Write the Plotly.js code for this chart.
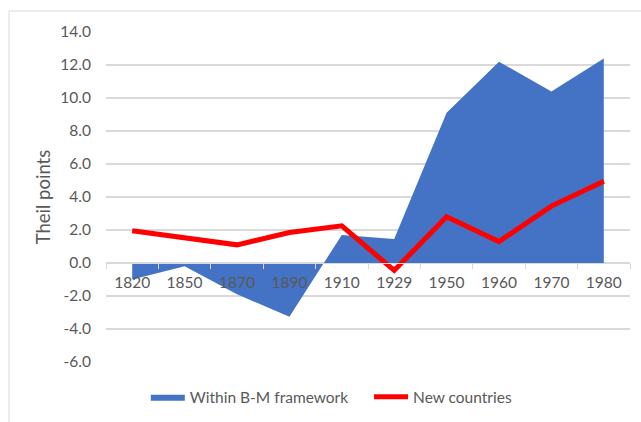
<!DOCTYPE html>
<html>
<head>
<meta charset="utf-8">
<script src="https://cdn.plot.ly/plotly-3.0.1.min.js"></script>
<style>
html,body{margin:0;padding:0;background:#fff;}
#chart{width:641px;height:422px;}
</style>
</head>
<body>
<div id="chart"></div>
<script>
const years = ['1820','1850','1870','1890','1910','1929','1950','1960','1970','1980'];
const withinBM = [-1.0, -0.2, -1.9, -3.25, 1.7, 1.45, 9.1, 12.2, 10.4, 12.4];
const newCountries = [1.95, 1.5, 1.1, 1.85, 2.25, -0.45, 2.8, 1.3, 3.45, 4.95];
const yTicks = [-6, -4, -2, 0, 2, 4, 6, 8, 10, 12, 14];
const yTickText = yTicks.map(v => v.toFixed(1));

const font = {family: 'Lato, "Open Sans", sans-serif', size: 15.5, color: '#595959'};

const traces = [
  {
    x: years, y: withinBM, type: 'scatter', mode: 'lines', name: 'Within B-M framework',
    fill: 'tozeroy', fillcolor: '#4472C4', line: {width: 0, color: '#4472C4'},
    hoverinfo: 'x+y', legend: 'legend'
  },
  {
    x: years, y: newCountries, type: 'scatter', mode: 'lines', name: 'New countries',
    line: {color: '#FF0000', width: 5}, hoverinfo: 'x+y', legend: 'legend2'
  }
];

const legFont = {family: font.family, size: 15.5, color: '#595959'};

const layout = {
  width: 641, height: 422,
  margin: {l: 106, r: 11, t: 32, b: 60, autoexpand: false},
  paper_bgcolor: '#fff', plot_bgcolor: '#fff',
  font: font,
  showlegend: true,
  legend: {orientation: 'h', x: 0.076, xanchor: 'left', y: -0.055, yanchor: 'top',
           font: legFont, itemwidth: 34},
  legend2: {orientation: 'h', x: 0.502, xanchor: 'left', y: -0.055, yanchor: 'top',
           font: legFont, itemwidth: 34},
  xaxis: {
    type: 'category', anchor: 'free', position: 0.3,
    showgrid: false, zeroline: false, automargin: false,
    showline: true, linecolor: '#d9d9d9', linewidth: 1.3,
    ticks: 'outside', tickson: 'boundaries', ticklen: 5, tickcolor: '#d9d9d9',
    tickfont: font, range: [-0.5, 9.5], fixedrange: true, ticklabelstandoff: 5
  },
  yaxis: {
    range: [-6, 14], tickvals: yTicks, ticktext: yTickText, automargin: false,
    showgrid: true, gridcolor: '#d9d9d9', gridwidth: 1.3,
    zeroline: false, showline: false, ticks: '', tickfont: font,
    ticklabelstandoff: 14,
    title: {text: 'Theil points', font: {family: font.family, size: 18.5, color: '#595959'}, standoff: 4}
  },
  shapes: [
    {type: 'line', xref: 'paper', yref: 'paper', x0: -0.185, x1: 1.1, y0: 1.0636, y1: 1.0636,
     line: {color: '#d9d9d9', width: 1}},
    {type: 'line', xref: 'paper', yref: 'paper', x0: -0.185, x1: -0.185, y0: 1.0636, y1: -0.3,
     line: {color: '#d9d9d9', width: 1}}
  ]
};

Plotly.newPlot('chart', traces, layout, {displayModeBar: false, staticPlot: true});
</script>
</body>
</html>
